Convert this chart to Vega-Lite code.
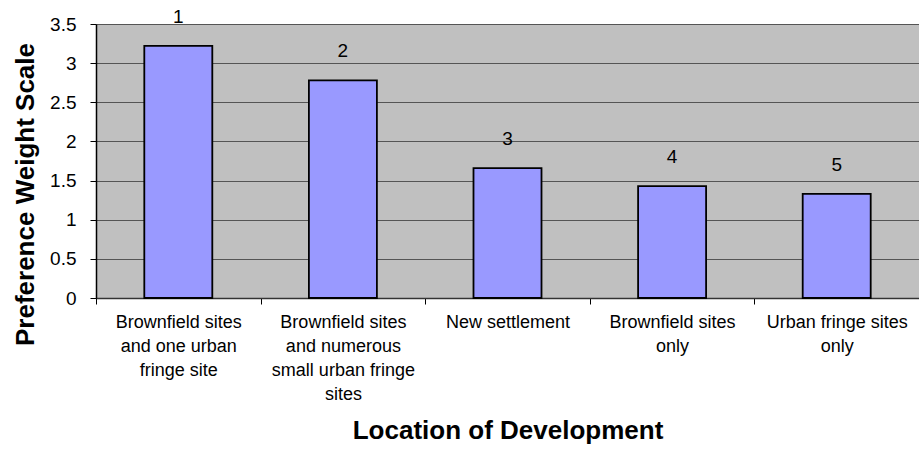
{
  "$schema": "https://vega.github.io/schema/vega-lite/v6.json",
  "width": 823,
  "height": 274,
  "autosize": "none",
  "padding": {"left": 96, "top": 24, "right": 0, "bottom": 154},
  "background": "white",
  "config": {
    "font": "Liberation Sans",
    "view": {"fill": "#C0C0C0", "stroke": null}
  },
  "data": {
    "values": [
      {"location": "Brownfield sites|and one urban|fringe site", "weight": 3.22, "rank": "1"},
      {"location": "Brownfield sites|and numerous|small urban fringe|sites", "weight": 2.78, "rank": "2"},
      {"location": "New settlement", "weight": 1.66, "rank": "3"},
      {"location": "Brownfield sites|only", "weight": 1.43, "rank": "4"},
      {"location": "Urban fringe sites|only", "weight": 1.33, "rank": "5"}
    ]
  },
  "encoding": {
    "x": {
      "field": "location",
      "type": "nominal",
      "sort": null,
      "scale": {"paddingInner": 0, "paddingOuter": 0},
      "axis": {
        "title": "Location of Development",
        "titleFont": "Liberation Sans",
        "titleFontSize": 26,
        "titleFontWeight": "bold",
        "titleColor": "black",
        "titleBaseline": "alphabetic",
        "titleY": 140,
        "labelAngle": 0,
        "labelExpr": "split(datum.label, '|')",
        "labelFontSize": 18,
        "labelLineHeight": 24,
        "labelColor": "black",
        "labelPadding": 9,
        "labelBaseline": "top",
        "tickBand": "extent",
        "tickSize": 6,
        "tickColor": "black",
        "domainColor": "#333333",
        "domainWidth": 1.5,
        "grid": false
      }
    },
    "y": {
      "field": "weight",
      "type": "quantitative",
      "scale": {"domain": [0, 3.5], "nice": false},
      "axis": {
        "title": "Preference Weight Scale",
        "titleFont": "Liberation Sans",
        "titleFontSize": 26,
        "titleFontWeight": "bold",
        "titleColor": "black",
        "titleAngle": -90,
        "titleBaseline": "alphabetic",
        "titleX": -63,
        "titleY": 170,
        "values": [0, 0.5, 1, 1.5, 2, 2.5, 3, 3.5],
        "format": "~g",
        "labelFontSize": 19,
        "labelColor": "black",
        "labelPadding": 14,
        "tickSize": 6,
        "tickColor": "black",
        "domainColor": "black",
        "domainWidth": 1.5,
        "grid": true,
        "gridColor": "#555555",
        "gridWidth": 1.2
      }
    }
  },
  "layer": [
    {
      "mark": {"type": "bar", "size": 68, "fill": "#9999FF", "stroke": "black", "strokeWidth": 1.8}
    },
    {
      "mark": {"type": "text", "baseline": "bottom", "dy": -19, "fontSize": 19, "color": "black"},
      "encoding": {"text": {"field": "rank"}}
    }
  ]
}
